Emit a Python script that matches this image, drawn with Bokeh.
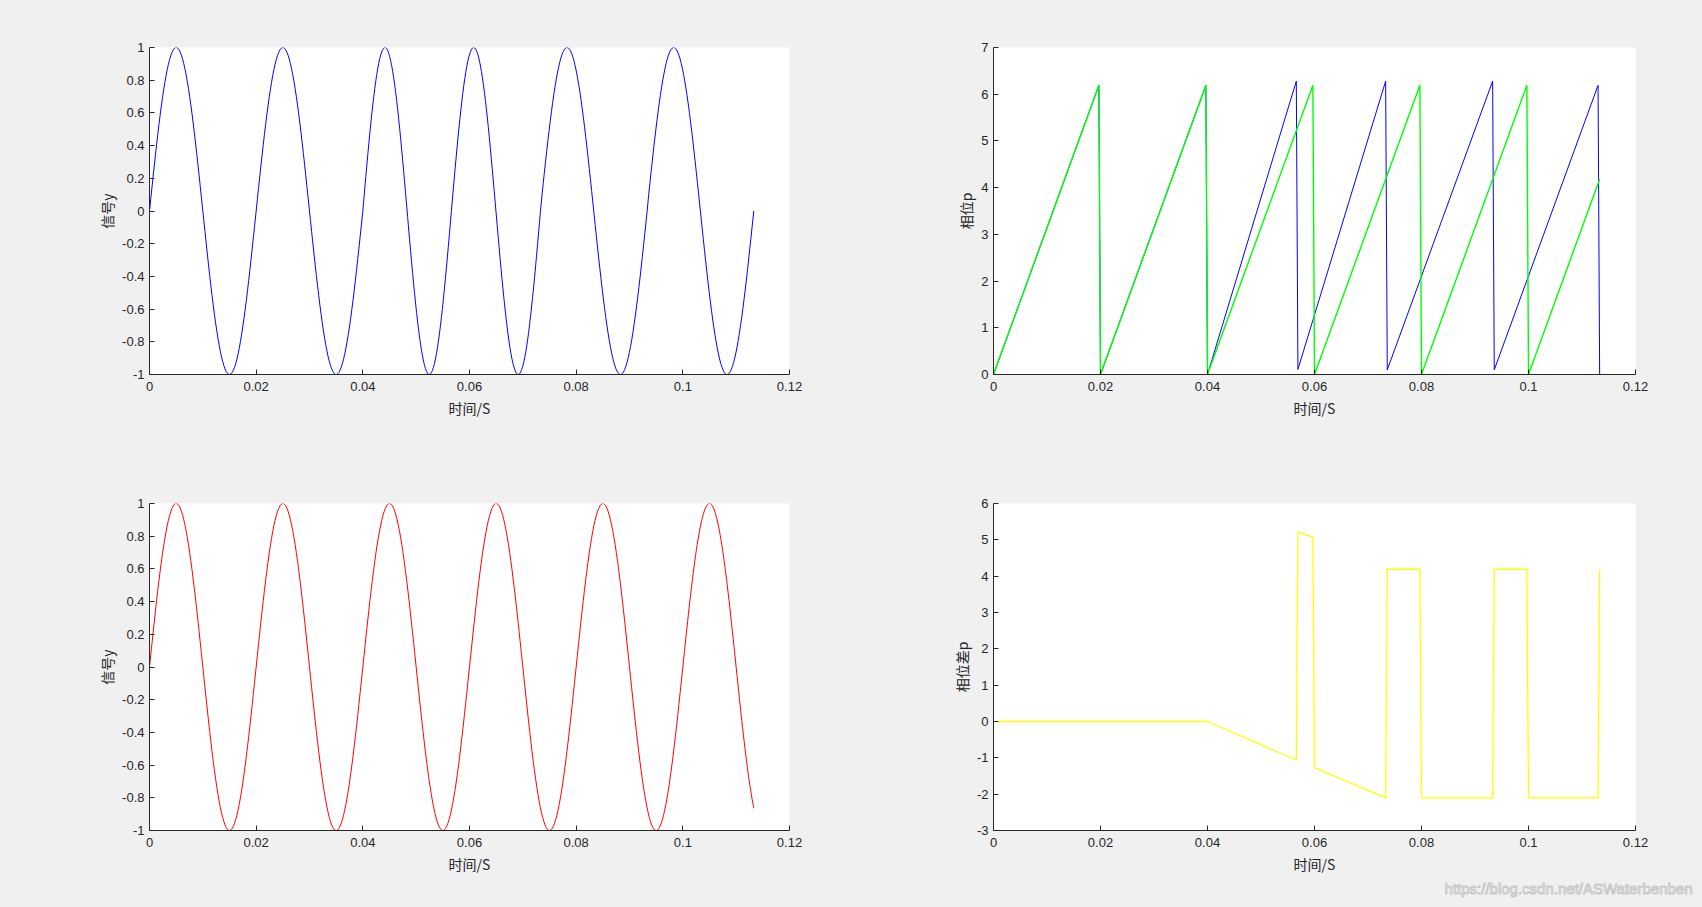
import numpy as np
from bokeh.plotting import figure
from bokeh.layouts import column, row
from bokeh.models import Range1d, FixedTicker, Title
from bokeh.embed import file_html
from bokeh.resources import INLINE

# ---------------- data ----------------
x_ticks = [0, 0.02, 0.04, 0.06, 0.08, 0.1, 0.12]
x_tick_labels = ["0", "0.02", "0.04", "0.06", "0.08", "0.1", "0.12"]
sig_ticks = [-1, -0.8, -0.6, -0.4, -0.2, 0, 0.2, 0.4, 0.6, 0.8, 1]
sig_tick_labels = ["-1", "-0.8", "-0.6", "-0.4", "-0.2", "0", "0.2", "0.4", "0.6", "0.8", "1"]
phase_ticks = [0, 1, 2, 3, 4, 5, 6, 7]
phase_tick_labels = ["0", "1", "2", "3", "4", "5", "6", "7"]
diff_ticks = [-3, -2, -1, 0, 1, 2, 3, 4, 5, 6]
diff_tick_labels = ["-3", "-2", "-1", "0", "1", "2", "3", "4", "5", "6"]

# reference phase (green, 50 Hz) – sawtooth vertices
green_t = [0, 0.0197, 0.0200, 0.0397, 0.0400, 0.0597, 0.0600, 0.0797, 0.0800, 0.0997, 0.1000, 0.1133]
green_p = [0, 6.19, 0, 6.19, 0, 6.19, 0, 6.19, 0, 6.19, 0, 4.18]
# signal phase (blue) – sawtooth vertices
blue_t = [0, 0.0197, 0.0200, 0.0397, 0.0400, 0.0566, 0.0569, 0.0733, 0.0736, 0.0933, 0.0936, 0.1130, 0.1133]
blue_p = [0, 6.19, 0, 6.19, 0, 6.28, 0.11, 6.28, 0.10, 6.28, 0.10, 6.19, 0]
# phase difference (yellow) – vertices
diff_t = [0, 0.0400, 0.0566, 0.0569, 0.0597, 0.0600, 0.0733, 0.0736, 0.0797, 0.0800,
          0.0933, 0.0936, 0.0997, 0.1000, 0.1130, 0.1133]
diff_p = [0, 0, -1.06, 5.22, 5.07, -1.27, -2.10, 4.19, 4.19, -2.10,
          -2.10, 4.19, 4.19, -2.10, -2.10, 4.19]

watermark = "https://blog.csdn.net/ASWaterbenben"


def signal_from_phase(ts, ps, n=90):
    """signal y = sin(phase), sampled along each rising ramp of the phase."""
    xs, ys = [], []
    for i in range(len(ts) - 1):
        if ps[i + 1] > ps[i]:
            tt = np.linspace(ts[i], ts[i + 1], n)
            pp = np.linspace(ps[i], ps[i + 1], n)
            xs.extend(tt.tolist())
            ys.extend(np.sin(pp).tolist())
    if xs[-1] != ts[-1]:
        xs.append(ts[-1])
        ys.append(float(np.sin(ps[-1])))
    return xs, ys


blue_sig_t, blue_sig_y = signal_from_phase(blue_t, blue_p)
red_sig_t, red_sig_y = signal_from_phase(green_t, green_p)

# ---------------- styling ----------------
BG = "#f0f0f0"
AX = "#262626"
TICK_FONT = "Liberation Sans"
LABEL_FONT = "Noto Sans CJK SC"


def make_fig(width, height, left, right, top, bottom, yr, yticks, ylabels, ylabel):
    p = figure(width=width, height=height, output_backend="svg", toolbar_location=None,
               x_range=Range1d(0, 0.12), y_range=Range1d(*yr),
               min_border_left=left, min_border_right=right,
               min_border_top=top, min_border_bottom=bottom,
               styles={"background-color": BG})
    p.background_fill_color = "white"
    p.border_fill_color = BG
    p.outline_line_color = None
    p.grid.visible = False
    p.xaxis.ticker = FixedTicker(ticks=x_ticks)
    p.xaxis.major_label_overrides = {t: l for t, l in zip(x_ticks, x_tick_labels)}
    p.yaxis.ticker = FixedTicker(ticks=yticks)
    p.yaxis.major_label_overrides = {t: l for t, l in zip(yticks, ylabels)}
    p.xaxis.axis_label = "时间/S"
    p.yaxis.axis_label = ylabel
    for ax in (p.xaxis[0], p.yaxis[0]):
        ax.axis_line_color = AX
        ax.axis_line_width = 1
        ax.major_tick_line_color = AX
        ax.major_tick_in = 5
        ax.major_tick_out = 0
        ax.minor_tick_line_color = None
        ax.major_label_text_font = TICK_FONT
        ax.major_label_text_font_size = "13px"
        ax.major_label_text_color = AX
        ax.axis_label_text_font = LABEL_FONT
        ax.axis_label_text_font_size = "14px"
        ax.axis_label_text_font_style = "normal"
        ax.axis_label_text_color = AX
    p.xaxis.major_label_standoff = 7
    p.yaxis.major_label_standoff = 5
    p.xaxis.axis_label_standoff = 4
    p.yaxis.axis_label_standoff = 2
    return p


p1 = make_fig(851, 453, 149, 62, 47, 79, (-1, 1), sig_ticks, sig_tick_labels, "信号y")
p1.line(blue_sig_t, blue_sig_y, line_color="#0000ff", line_width=1)

p2 = make_fig(851, 453, 142, 67, 47, 79, (0, 7), phase_ticks, phase_tick_labels, "相位p")
p2.line(blue_t, blue_p, line_color="#0000ff", line_width=1)
p2.line(green_t, green_p, line_color="#00ff00", line_width=1.4)

p3 = make_fig(851, 454, 149, 62, 50, 77, (-1, 1), sig_ticks, sig_tick_labels, "信号y")
p3.line(red_sig_t, red_sig_y, line_color="#ff0000", line_width=1)

p4 = make_fig(851, 454, 142, 67, 50, 77, (-3, 6), diff_ticks, diff_tick_labels, "相位差p")
p4.line(diff_t, diff_p, line_color="#ffff00", line_width=1.3)

# watermark as a title below the bottom-right panel
wm = Title(text=watermark, align="right", offset=-57, standoff=2,
           text_font=TICK_FONT, text_font_size="15px", text_font_style="normal",
           text_color="#ffffff", text_outline_color="#c8c8c8")
p4.add_layout(wm, "below")

top_row = row(p1, p2, styles={"background-color": BG})
bottom_row = row(p3, p4, styles={"background-color": BG})
layout = column(top_row, bottom_row, styles={"background-color": BG})
open("out.html", "w").write(file_html(layout, INLINE))
